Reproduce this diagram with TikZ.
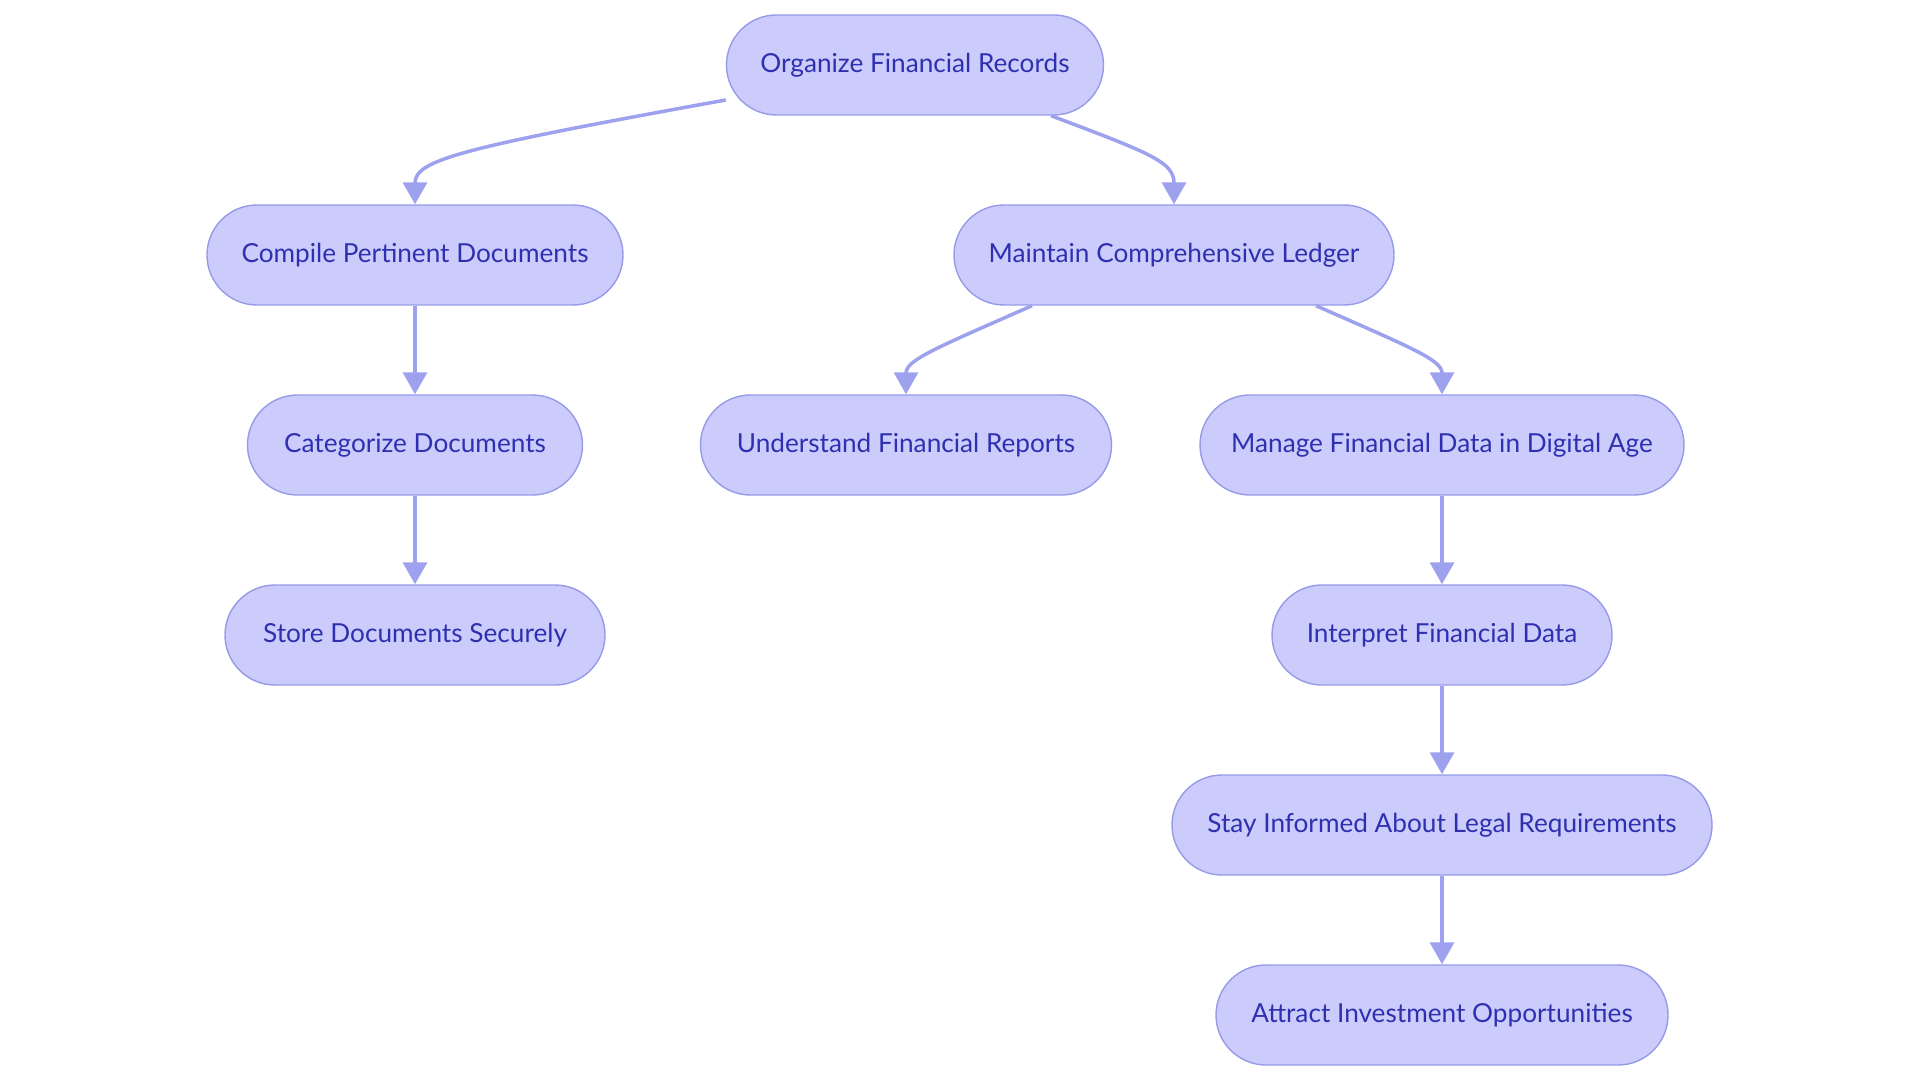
\documentclass[tikz,border=0pt]{standalone}
\usepackage{fontspec}
\setmainfont{Lato}
\usetikzlibrary{arrows.meta}
\definecolor{boxfill}{RGB}{203,204,252}
\definecolor{boxline}{RGB}{150,155,232}
\definecolor{edgeline}{RGB}{158,162,238}
\definecolor{boxtext}{RGB}{46,48,176}
\begin{document}
\begin{tikzpicture}[
	box/.style = {draw = boxline, fill = boxfill, line width = 0.4pt, rounded corners = 0.5cm,
		minimum height = 1cm, inner sep = 0pt, text = boxtext, font = \fontsize{7.45}{9}\selectfont},
	edge/.style = {draw = edgeline, line width = 1pt, -{Triangle[length = 0.22cm, width = 0.24cm]}}
	]
	\useasboundingbox (0,0) rectangle (19.2,-10.8);
	\node [box, minimum width = 3.77cm] (org) at (9.15,-0.65) {Organize Financial Records};
	\node [box, minimum width = 4.16cm] (cmp) at (4.15,-2.55) {Compile Pertinent Documents};
	\node [box, minimum width = 4.40cm] (mnt) at (11.74,-2.55) {Maintain Comprehensive Ledger};
	\node [box, minimum width = 3.35cm] (cat) at (4.15,-4.45) {Categorize Documents};
	\node [box, minimum width = 4.11cm] (und) at (9.06,-4.45) {Understand Financial Reports};
	\node [box, minimum width = 4.84cm] (man) at (14.42,-4.45) {Manage Financial Data in Digital Age};
	\node [box, minimum width = 3.80cm] (sto) at (4.15,-6.35) {Store Documents Securely};
	\node [box, minimum width = 3.40cm] (int) at (14.42,-6.35) {Interpret Financial Data};
	\node [box, minimum width = 5.40cm] (stay) at (14.42,-8.25) {Stay Informed About Legal Requirements};
	\node [box, minimum width = 4.52cm] (att) at (14.42,-10.15) {Attract Investment Opportunities};
	\draw [edge] ([yshift = -0.35cm] org.west) .. controls (4.6,-1.48) and (4.15,-1.6) .. (cmp.north);
	\draw [edge] ([xshift = 1.36cm] org.south) .. controls (11.5,-1.53) and (11.74,-1.62) .. (mnt.north);
	\draw [edge] ([xshift = -1.42cm] mnt.south) .. controls (9.36,-3.48) and (9.06,-3.6) .. (und.north);
	\draw [edge] ([xshift = 1.42cm] mnt.south) .. controls (14.12,-3.48) and (14.42,-3.6) .. (man.north);
	\draw [edge] (cmp) -- (cat);
	\draw [edge] (cat) -- (sto);
	\draw [edge] (man) -- (int);
	\draw [edge] (int) -- (stay);
	\draw [edge] (stay) -- (att);
\end{tikzpicture}
\end{document}
